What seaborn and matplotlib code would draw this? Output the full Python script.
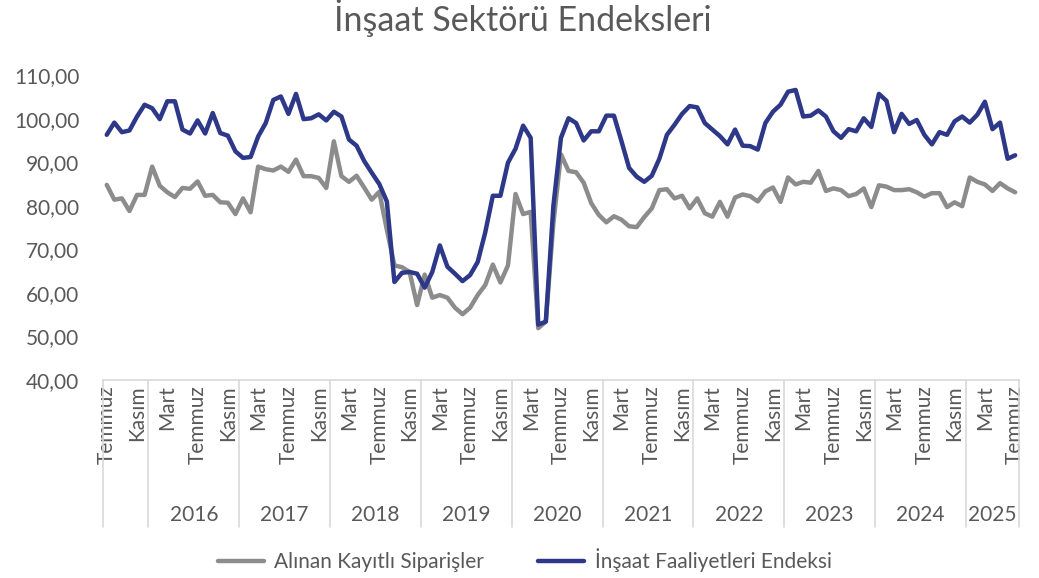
import numpy as np
import pandas as pd
import matplotlib
matplotlib.use("Agg")
import matplotlib.pyplot as plt
import matplotlib.transforms as mtransforms
import seaborn as sns

# aylik seriler, Temmuz 2015 - Temmuz 2025
siparis = [
    84.8, 81.4, 81.7, 78.8, 82.5, 82.5,
    89.0, 84.6, 83.1, 82.0, 84.1, 83.9, 85.6, 82.3, 82.5, 80.8, 80.7, 78.1,
    81.7, 78.5, 89.0, 88.4, 88.1, 89.0, 87.8, 90.6, 86.8, 86.8, 86.4, 84.1,
    94.8, 86.8, 85.5, 86.9, 84.2, 81.4, 83.2, 74.5, 66.3, 65.9, 64.8, 57.2,
    64.2, 58.9, 59.5, 58.9, 56.6, 55.1, 56.6, 59.5, 61.8, 66.5, 62.4, 66.3,
    82.7, 78.1, 78.6, 51.9, 53.4, 76.0, 91.8, 88.0, 87.7, 85.3, 80.6, 77.9,
    76.2, 77.6, 76.8, 75.3, 75.1, 77.4, 79.4, 83.6, 83.8, 81.7, 82.3, 79.4,
    81.7, 78.3, 77.5, 80.9, 77.5, 81.9, 82.6, 82.2, 81.0, 83.3, 84.2, 80.9,
    86.5, 84.9, 85.5, 85.3, 88.0, 83.4, 84.0, 83.6, 82.2, 82.7, 84.0, 79.7,
    84.7, 84.4, 83.6, 83.6, 83.8, 83.1, 82.1, 82.9, 82.9, 79.7, 80.8, 79.9,
    86.5, 85.5, 84.9, 83.4, 85.2, 84.0, 83.1,
]
faaliyet = [
    96.3, 99.1, 96.9, 97.3, 100.5, 103.2,
    102.4, 99.9, 104.0, 104.0, 97.5, 96.6, 99.6, 96.6, 101.3, 96.7, 96.1, 92.5,
    91.0, 91.2, 95.9, 99.0, 104.3, 105.1, 101.1, 105.7, 99.9, 100.1, 101.0, 99.6,
    101.6, 100.5, 95.2, 93.8, 90.3, 87.6, 85.0, 81.0, 62.5, 64.6, 64.8, 64.4,
    61.2, 64.8, 70.9, 66.0, 64.4, 62.7, 64.1, 67.1, 73.9, 82.3, 82.3, 89.9,
    93.1, 98.4, 95.6, 52.7, 53.4, 80.0, 95.6, 100.1, 99.0, 95.0, 97.1, 97.1,
    100.7, 100.7, 94.8, 88.7, 86.7, 85.5, 86.9, 90.8, 96.3, 98.6, 101.1, 102.9,
    102.6, 99.0, 97.5, 96.0, 94.1, 97.5, 93.8, 93.7, 92.9, 99.0, 101.6, 103.2,
    106.2, 106.6, 100.5, 100.7, 101.9, 100.5, 97.1, 95.6, 97.6, 97.1, 100.1, 98.1,
    105.7, 104.1, 96.9, 101.1, 98.8, 99.7, 96.3, 94.1, 96.9, 96.3, 99.4, 100.5,
    99.1, 100.9, 103.9, 97.6, 99.1, 90.8, 91.6,
]

tick_labels = ["Temmuz", "Kasım", "Mart"] * 10 + ["Temmuz"]
year_labels = ["", "2016", "2017", "2018", "2019", "2020",
               "2021", "2022", "2023", "2024", "2025"]
year_lengths = [6, 12, 12, 12, 12, 12, 12, 12, 12, 12, 7]

series_names = ["Alınan Kayıtlı Siparişler", "İnşaat Faaliyetleri Endeksi"]
colors = ["#8c8c8c", "#2e3888"]
text_color = "#595959"
line_gray = "#d9d9d9"

n = len(siparis)
df = pd.DataFrame({"ay": np.arange(n), series_names[0]: siparis, series_names[1]: faaliyet})
data = df.melt(id_vars="ay", var_name="seri", value_name="deger")

sns.set_style("white")
plt.rcParams["font.family"] = ["Lato", "DejaVu Sans"]

fig, ax = plt.subplots(figsize=(10.39, 5.78), dpi=100)
fig.subplots_adjust(left=0.0991, right=0.9807, bottom=0.3426, top=0.870)

sns.lineplot(data=data, x="ay", y="deger", hue="seri", hue_order=series_names,
             palette=dict(zip(series_names, colors)), linewidth=3.2, ax=ax,
             solid_joinstyle="round", solid_capstyle="round")

ax.set_xlim(-0.5, n - 0.5)
ax.set_ylim(40, 110)
yticks = list(range(40, 111, 10))
ax.set_yticks(yticks)
ax.set_yticklabels([f"{v:.2f}".replace(".", ",") for v in yticks])
ax.set_xticks(range(0, n, 4))
ax.set_xticklabels(tick_labels, rotation=90, va="top", ha="center")
ax.tick_params(axis="x", length=0, pad=4, labelsize=15, colors=text_color)
ax.tick_params(axis="y", length=0, pad=17, labelsize=15, colors=text_color)
ax.set_xlabel("")
ax.set_ylabel("")

for side in ["left", "right", "top"]:
    ax.spines[side].set_visible(False)
ax.spines["bottom"].set_color(line_gray)
ax.spines["bottom"].set_linewidth(1.2)

# yil gruplari
trans = mtransforms.blended_transform_factory(ax.transData, ax.transAxes)
bounds = np.cumsum([0] + year_lengths) - 0.5
for b in bounds:
    ax.plot([b, b], [0, -0.482], transform=trans, color=line_gray, lw=1.2, clip_on=False)
for start, length, label in zip(bounds[:-1], year_lengths, year_labels):
    ax.text(start + length / 2, -0.443, label, transform=trans, ha="center", va="center",
            fontsize=15, color=text_color)

fig.text(0.503, 0.968, "İnşaat Sektörü Endeksleri", ha="center", va="center",
         fontsize=24.5, color=text_color)

leg = ax.legend(loc="center", bbox_to_anchor=(0.505, 0.031), bbox_transform=fig.transFigure,
                ncol=2, frameon=False, fontsize=15, handlelength=2.2,
                handletextpad=0.5, columnspacing=2.6)
for t in leg.get_texts():
    t.set_color(text_color)

plt.savefig("out.png", dpi=100)
plt.close()
